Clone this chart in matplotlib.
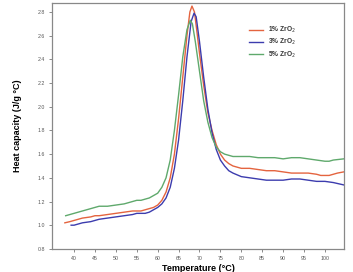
import matplotlib
matplotlib.use("Agg")
import matplotlib.pyplot as plt

plt.rcParams['font.family'] = ['Liberation Sans', 'DejaVu Sans']

t_1 = [37.8, 39, 40, 42, 44, 45, 46, 48, 50, 52, 54, 55, 56, 57, 58, 59, 60, 61, 62, 63, 64, 65, 66, 67, 67.7, 68.2, 68.8, 69.5, 70, 71, 72, 73, 74, 75, 76, 77, 78, 80, 82, 84, 86, 88, 90, 92, 94, 96, 98, 99, 100, 101, 102, 103, 104.5]
cp_1 = [1.02, 1.03, 1.04, 1.06, 1.07, 1.08, 1.08, 1.09, 1.10, 1.11, 1.12, 1.12, 1.12, 1.13, 1.14, 1.15, 1.17, 1.21, 1.28, 1.40, 1.60, 1.90, 2.25, 2.60, 2.80, 2.85, 2.80, 2.60, 2.45, 2.18, 1.95, 1.80, 1.68, 1.60, 1.55, 1.52, 1.50, 1.48, 1.48, 1.47, 1.46, 1.46, 1.45, 1.44, 1.44, 1.44, 1.43, 1.42, 1.42, 1.42, 1.43, 1.44, 1.45]

t_3 = [39.3, 40, 42, 44, 45, 46, 48, 50, 52, 54, 55, 56, 57, 58, 59, 60, 61, 62, 63, 64, 65, 66, 67, 68, 68.7, 69.2, 70, 71, 72, 73, 74, 75, 76, 77, 78, 80, 82, 84, 86, 88, 90, 92, 94, 96, 98, 100, 102, 104.5]
cp_3 = [1.00, 1.00, 1.02, 1.03, 1.04, 1.05, 1.06, 1.07, 1.08, 1.09, 1.10, 1.10, 1.10, 1.11, 1.13, 1.15, 1.18, 1.23, 1.32, 1.48, 1.72, 2.05, 2.42, 2.72, 2.79, 2.76, 2.55, 2.25, 1.98, 1.78, 1.64, 1.55, 1.50, 1.46, 1.44, 1.41, 1.40, 1.39, 1.38, 1.38, 1.38, 1.39, 1.39, 1.38, 1.37, 1.37, 1.36, 1.34]

t_5 = [38, 40, 42, 44, 45, 46, 48, 50, 52, 54, 55, 56, 58, 59, 60, 61, 62, 63, 64, 65, 66, 67, 67.8, 68.3, 69, 70, 71, 72, 73, 74, 75, 76, 77, 78, 80, 82, 84, 86, 88, 90, 92, 94, 96, 98, 100, 101, 102, 104.5]
cp_5 = [1.08, 1.10, 1.12, 1.14, 1.15, 1.16, 1.16, 1.17, 1.18, 1.20, 1.21, 1.21, 1.23, 1.25, 1.27, 1.32, 1.40, 1.55, 1.80, 2.10, 2.42, 2.65, 2.73, 2.70, 2.55, 2.30, 2.05, 1.87, 1.74, 1.66, 1.62, 1.60, 1.59, 1.58, 1.58, 1.58, 1.57, 1.57, 1.57, 1.56, 1.57, 1.57, 1.56, 1.55, 1.54, 1.54, 1.55, 1.56]

labels = ['1% ZrO$_2$', '3% ZrO$_2$', '5% ZrO$_2$']
colors = ['#e4643f', '#3c3cae', '#5fa96c']
x_ticks = [40, 45, 50, 55, 60, 65, 70, 75, 80, 85, 90, 95, 100]
y_ticks = [0.8, 1.0, 1.2, 1.4, 1.6, 1.8, 2.0, 2.2, 2.4, 2.6, 2.8]

fig = plt.figure(figsize=(3.53, 2.72), dpi=100)
ax = fig.add_axes([0.147, 0.085, 0.828, 0.904])

for t, cp, lab, c in zip([t_1, t_3, t_5], [cp_1, cp_3, cp_5], labels, colors):
    ax.plot(t, cp, color=c, lw=1.0, label=lab)

ax.set_xlim(34.7, 104.6)
ax.set_ylim(0.8, 2.876)
ax.set_xticks(x_ticks)
ax.set_yticks(y_ticks)
ax.set_yticklabels([f"{v:.1f}" for v in y_ticks])
ax.tick_params(labelsize=3.8, labelcolor='#555555', color='#777777', length=2, width=0.6, pad=3)
for s in ax.spines.values():
    s.set_color('#888888')
    s.set_linewidth(0.9)

ax.set_ylabel('Heat capacity (J/g °C)', fontsize=6.5, fontweight='bold', labelpad=11)
ax.set_xlabel('Temperature (°C)', fontsize=6.5, fontweight='bold', labelpad=2)

leg = ax.legend(loc='upper left', bbox_to_anchor=(0.655, 0.935), frameon=False,
                fontsize=4.8, handlelength=2.0, handletextpad=0.8, labelspacing=0.3)
for txt in leg.get_texts():
    txt.set_fontweight('bold')
    txt.set_color('#333333')

fig.savefig('out.png', dpi=100)
